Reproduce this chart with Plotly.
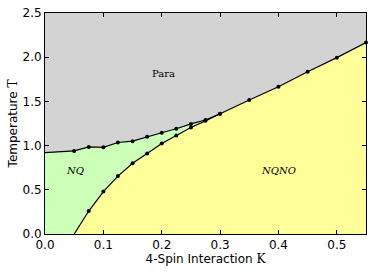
import plotly.graph_objects as go

# Upper phase boundary (Para / ordered)
K_upper = [0.0, 0.05, 0.075, 0.1, 0.125, 0.15, 0.175, 0.2, 0.225, 0.25, 0.275, 0.3,
           0.35, 0.4, 0.45, 0.5, 0.55]
T_upper = [0.92, 0.94, 0.985, 0.98, 1.035, 1.05, 1.10, 1.145, 1.19, 1.245, 1.29, 1.36,
           1.515, 1.665, 1.835, 1.995, 2.165]
# Lower phase boundary (NQ / NQNO)
K_lower = [0.05, 0.075, 0.1, 0.125, 0.15, 0.175, 0.2, 0.225, 0.25, 0.275, 0.3]
T_lower = [0.0, 0.26, 0.48, 0.655, 0.80, 0.91, 1.025, 1.115, 1.205, 1.28, 1.36]

x_ticks = [0.0, 0.1, 0.2, 0.3, 0.4, 0.5]
y_ticks = [0.0, 0.5, 1.0, 1.5, 2.0, 2.5]

GRAY = "#d3d3d3"
GREEN = "#ccffb8"
YELLOW = "#ffff99"

K_max = 0.55
split = K_upper.index(K_lower[-1])

fig = go.Figure()

# NQ region (green)
green_x = K_upper[:split + 1] + K_lower[::-1] + [K_upper[0]]
green_y = T_upper[:split + 1] + T_lower[::-1] + [0.0]
fig.add_trace(go.Scatter(x=green_x, y=green_y, fill="toself", fillcolor=GREEN,
                         mode="none", hoverinfo="skip", showlegend=False))

# NQNO region (yellow)
yellow_x = K_lower + K_upper[split + 1:] + [K_max]
yellow_y = T_lower + T_upper[split + 1:] + [0.0]
fig.add_trace(go.Scatter(x=yellow_x, y=yellow_y, fill="toself", fillcolor=YELLOW,
                         mode="none", hoverinfo="skip", showlegend=False))

# Boundaries
fig.add_trace(go.Scatter(x=K_upper[1:], y=T_upper[1:], mode="lines+markers",
                         line=dict(color="black", width=1.2),
                         marker=dict(color="black", size=4), showlegend=False,
                         cliponaxis=False))
fig.add_trace(go.Scatter(x=K_upper[:2], y=T_upper[:2], mode="lines",
                         line=dict(color="black", width=1.2), showlegend=False))
fig.add_trace(go.Scatter(x=K_lower[1:], y=T_lower[1:], mode="lines+markers",
                         line=dict(color="black", width=1.2),
                         marker=dict(color="black", size=4), showlegend=False))
fig.add_trace(go.Scatter(x=K_lower[:2], y=T_lower[:2], mode="lines",
                         line=dict(color="black", width=1.2), showlegend=False))

serif = "DejaVu Serif"
fig.add_annotation(x=0.203, y=1.82, text="Para", showarrow=False,
                   font=dict(family=serif, size=10, color="black"))
fig.add_annotation(x=0.051, y=0.715, text="<i>NQ</i>", showarrow=False,
                   font=dict(family=serif, size=10, color="black"))
fig.add_annotation(x=0.40, y=0.715, text="<i>NQNO</i>", showarrow=False,
                   font=dict(family=serif, size=10, color="black"))

tick_font = dict(family="DejaVu Sans", size=12, color="black")
axis_common = dict(showline=True, linecolor="black", linewidth=1, mirror="ticks",
                   ticks="inside", ticklen=4, tickcolor="black", showgrid=False,
                   zeroline=False, tickfont=tick_font, automargin=False)

fig.update_xaxes(range=[0, K_max], tickvals=x_ticks,
                 ticktext=[f"{v:.1f}" for v in x_ticks],
                 title=dict(text="4-Spin Interaction <span style='font-family:DejaVu Serif'>K</span>",
                            font=tick_font, standoff=2),
                 **axis_common)
fig.update_yaxes(range=[0, 2.5], tickvals=y_ticks,
                 ticktext=[f"{v:.1f}" for v in y_ticks],
                 title=dict(text="Temperature <span style='font-family:DejaVu Serif'>T</span>",
                            font=tick_font, standoff=2),
                 **axis_common)

fig.update_layout(width=374, height=273, margin=dict(l=45, r=8, t=13, b=39),
                  plot_bgcolor=GRAY, paper_bgcolor="white",
                  font=dict(family="DejaVu Sans", size=12, color="black"))

fig.write_html("out.html", config={"displayModeBar": False},
               post_script="document.body.style.margin='0';document.body.style.padding='0';")
